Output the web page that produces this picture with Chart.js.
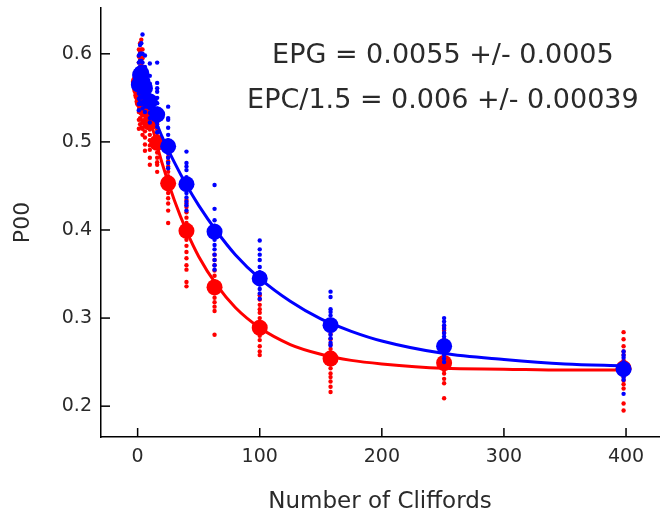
<!DOCTYPE html>
<html>
<head>
<meta charset="utf-8">
<script src="https://cdn.jsdelivr.net/npm/chart.js@4.4.1/dist/chart.umd.min.js"></script>
<style>
  html, body { margin: 0; padding: 0; background: #fff; }
  #wrap { width: 660px; height: 514px; position: relative; }
</style>
</head>
<body>
<div id="wrap"><canvas id="rbChart"></canvas></div>
<script>
// Sequence lengths (number of Cliffords)
const cliffords = [1, 2, 3, 4, 6, 10, 16, 25, 40, 63, 100, 158, 251, 398];

// Mean P00 per length
const blueMean = [0.565, 0.576, 0.578, 0.568, 0.561, 0.546, 0.531, 0.495, 0.452, 0.398, 0.345, 0.292, 0.268, 0.242];
const redMean  = [0.568, 0.560, 0.553, 0.546, 0.537, 0.522, 0.499, 0.453, 0.399, 0.335, 0.289, 0.254, 0.249, 0.243];

// Individual seeds per length
const blueShots = [
  [0.598, 0.590, 0.583, 0.577, 0.571, 0.565, 0.560, 0.555, 0.549, 0.543, 0.536],
  [0.610, 0.600, 0.592, 0.585, 0.580, 0.575, 0.570, 0.564, 0.558, 0.551, 0.545],
  [0.612, 0.600, 0.592, 0.585, 0.579, 0.574, 0.568, 0.562, 0.556, 0.550, 0.543],
  [0.622, 0.600, 0.590, 0.582, 0.575, 0.569, 0.563, 0.557, 0.551, 0.545, 0.538],
  [0.598, 0.585, 0.578, 0.572, 0.566, 0.561, 0.556, 0.550, 0.545, 0.540, 0.534],
  [0.589, 0.575, 0.566, 0.560, 0.553, 0.548, 0.543, 0.538, 0.533, 0.527, 0.522],
  [0.590, 0.567, 0.561, 0.557, 0.550, 0.544, 0.538, 0.533, 0.528, 0.522, 0.517, 0.511],
  [0.540, 0.527, 0.525, 0.516, 0.508, 0.502, 0.497, 0.492, 0.487, 0.482, 0.476, 0.470],
  [0.489, 0.476, 0.472, 0.468, 0.460, 0.455, 0.447, 0.442, 0.437, 0.432, 0.428, 0.422],
  [0.451, 0.424, 0.411, 0.405, 0.400, 0.394, 0.389, 0.383, 0.378, 0.372, 0.366, 0.360, 0.355],
  [0.388, 0.378, 0.372, 0.366, 0.358, 0.352, 0.348, 0.342, 0.338, 0.333, 0.328, 0.322],
  [0.330, 0.324, 0.310, 0.307, 0.303, 0.298, 0.294, 0.290, 0.286, 0.281, 0.277, 0.272, 0.269],
  [0.300, 0.296, 0.292, 0.288, 0.283, 0.279, 0.275, 0.270, 0.266, 0.262, 0.258, 0.254, 0.250],
  [0.262, 0.258, 0.255, 0.250, 0.246, 0.243, 0.240, 0.237, 0.233, 0.230, 0.214]
];
const redShots = [
  [0.605, 0.597, 0.590, 0.583, 0.577, 0.571, 0.565, 0.559, 0.553, 0.547, 0.541, 0.534, 0.525, 0.515],
  [0.612, 0.602, 0.593, 0.585, 0.578, 0.572, 0.566, 0.560, 0.554, 0.548, 0.542, 0.535, 0.527, 0.520],
  [0.616, 0.605, 0.595, 0.587, 0.579, 0.572, 0.565, 0.558, 0.552, 0.546, 0.540, 0.533, 0.525, 0.516],
  [0.605, 0.595, 0.585, 0.577, 0.569, 0.562, 0.556, 0.550, 0.545, 0.540, 0.535, 0.530, 0.522, 0.515, 0.508],
  [0.575, 0.566, 0.558, 0.551, 0.545, 0.540, 0.535, 0.530, 0.524, 0.518, 0.512, 0.505, 0.497, 0.490],
  [0.545, 0.540, 0.534, 0.529, 0.524, 0.519, 0.514, 0.508, 0.502, 0.496, 0.491, 0.482, 0.474],
  [0.527, 0.520, 0.514, 0.510, 0.505, 0.502, 0.497, 0.493, 0.488, 0.482, 0.477, 0.474, 0.466],
  [0.488, 0.483, 0.478, 0.472, 0.466, 0.461, 0.456, 0.451, 0.446, 0.442, 0.436, 0.430, 0.422, 0.408],
  [0.434, 0.430, 0.426, 0.420, 0.414, 0.408, 0.402, 0.396, 0.389, 0.382, 0.375, 0.368, 0.360, 0.355, 0.341, 0.336],
  [0.372, 0.366, 0.360, 0.354, 0.348, 0.342, 0.337, 0.333, 0.328, 0.323, 0.318, 0.313, 0.308, 0.281],
  [0.326, 0.321, 0.315, 0.310, 0.306, 0.300, 0.295, 0.290, 0.285, 0.280, 0.275, 0.268, 0.262, 0.258],
  [0.290, 0.282, 0.276, 0.270, 0.265, 0.260, 0.256, 0.252, 0.248, 0.243, 0.237, 0.233, 0.228, 0.222, 0.216],
  [0.290, 0.286, 0.283, 0.276, 0.268, 0.262, 0.257, 0.253, 0.249, 0.246, 0.243, 0.241, 0.237, 0.231, 0.226, 0.209],
  [0.284, 0.276, 0.268, 0.262, 0.258, 0.252, 0.248, 0.245, 0.240, 0.236, 0.233, 0.229, 0.225, 0.220, 0.203, 0.195]
];

// Fitted decay curves
const fitX    = [1, 5, 10, 15, 20, 30, 40, 50, 65, 80, 100, 125, 150, 175, 200, 250, 300, 350, 398];
const blueFit = [0.573, 0.558, 0.540, 0.523, 0.506, 0.477, 0.451, 0.428, 0.398, 0.372, 0.345, 0.319, 0.299, 0.285, 0.274, 0.260, 0.253, 0.248, 0.246];
const redFit  = [0.584, 0.558, 0.528, 0.501, 0.476, 0.434, 0.399, 0.370, 0.337, 0.312, 0.289, 0.270, 0.259, 0.252, 0.248, 0.243, 0.242, 0.241, 0.241];

const annotations = ['EPG = 0.0055 +/- 0.0005', 'EPC/1.5 = 0.006 +/- 0.00039'];

const xTicks = [0, 100, 200, 300, 400];
const yTicks = [0.2, 0.3, 0.4, 0.5, 0.6];

const BLUE = '#0000ff';
const RED = '#ff0000';
const TEXT = '#2a2a2a';
const FONT = 'DejaVu Sans, Verdana, sans-serif';

const flatten = (shots) => {
  const pts = [];
  shots.forEach((col, i) => col.forEach(v => pts.push({ x: cliffords[i], y: v })));
  return pts;
};
const pairs = (xs, ys) => xs.map((x, i) => ({ x: x, y: ys[i] }));

// inward tick marks + text annotations
const extrasPlugin = {
  id: 'extras',
  afterDraw(chart) {
    const ctx = chart.ctx;
    const xs = chart.scales.x, ys = chart.scales.y;
    const area = chart.chartArea;
    ctx.save();
    ctx.strokeStyle = '#000';
    ctx.lineWidth = 1.5;
    xTicks.forEach(v => {
      const px = xs.getPixelForValue(v);
      ctx.beginPath();
      ctx.moveTo(px, area.bottom);
      ctx.lineTo(px, area.bottom - 9);
      ctx.stroke();
    });
    yTicks.forEach(v => {
      const py = ys.getPixelForValue(v);
      ctx.beginPath();
      ctx.moveTo(area.left, py);
      ctx.lineTo(area.left + 9, py);
      ctx.stroke();
    });
    ctx.fillStyle = TEXT;
    ctx.font = '27px ' + FONT;
    ctx.textAlign = 'center';
    ctx.textBaseline = 'middle';
    ctx.fillText(annotations[0], xs.getPixelForValue(250), ys.getPixelForValue(0.597));
    ctx.fillText(annotations[1], xs.getPixelForValue(250), ys.getPixelForValue(0.546));
    ctx.restore();
  }
};

const ctx = document.getElementById('rbChart').getContext('2d');
new Chart(ctx, {
  type: 'scatter',
  data: {
    datasets: [
      { data: pairs(cliffords, blueMean), backgroundColor: BLUE, borderWidth: 0, pointRadius: 8, order: 0 },
      { data: pairs(fitX, blueFit), showLine: true, borderColor: BLUE, borderWidth: 3, pointRadius: 0, cubicInterpolationMode: 'monotone', order: 1 },
      { data: flatten(blueShots), backgroundColor: BLUE, borderWidth: 0, pointRadius: 2.2, order: 2 },
      { data: pairs(cliffords, redMean), backgroundColor: RED, borderWidth: 0, pointRadius: 8, order: 3 },
      { data: pairs(fitX, redFit), showLine: true, borderColor: RED, borderWidth: 3, pointRadius: 0, cubicInterpolationMode: 'monotone', order: 4 },
      { data: flatten(redShots), backgroundColor: RED, borderWidth: 0, pointRadius: 2.2, order: 5 }
    ]
  },
  options: {
    responsive: true,
    maintainAspectRatio: false,
    animation: false,
    layout: { autoPadding: false, padding: { top: 8, right: 1, left: 0, bottom: 0 } },
    plugins: { legend: { display: false }, tooltip: { enabled: false } },
    scales: {
      x: {
        type: 'linear',
        min: -30,
        max: 427,
        grid: { display: false, drawTicks: false },
        border: { display: true, color: '#000', width: 1.5 },
        ticks: {
          stepSize: 100,
          includeBounds: false,
          padding: 9,
          color: TEXT,
          font: { family: FONT, size: 19 }
        },
        title: {
          display: true,
          text: 'Number of Cliffords',
          color: TEXT,
          font: { family: FONT, size: 23 },
          padding: { top: 0, bottom: -2 }
        },
        afterFit: (scale) => {
          scale.height = 77;
          scale.paddingLeft = 0;
          scale.paddingRight = 0;
        }
      },
      y: {
        type: 'linear',
        min: 0.165,
        max: 0.652,
        grid: { display: false, drawTicks: false },
        border: { display: true, color: '#000', width: 1.5 },
        ticks: {
          stepSize: 0.1,
          includeBounds: false,
          padding: 9,
          color: TEXT,
          font: { family: FONT, size: 19 },
          callback: (v) => v.toFixed(1)
        },
        title: {
          display: true,
          text: 'P00',
          color: TEXT,
          font: { family: FONT, size: 22 },
          padding: { top: 10, bottom: 0 }
        },
        afterFit: (scale) => {
          scale.width = 101;
          scale.paddingTop = 0;
          scale.paddingBottom = 0;
        }
      }
    }
  },
  plugins: [extrasPlugin]
});
</script>
</body>
</html>
